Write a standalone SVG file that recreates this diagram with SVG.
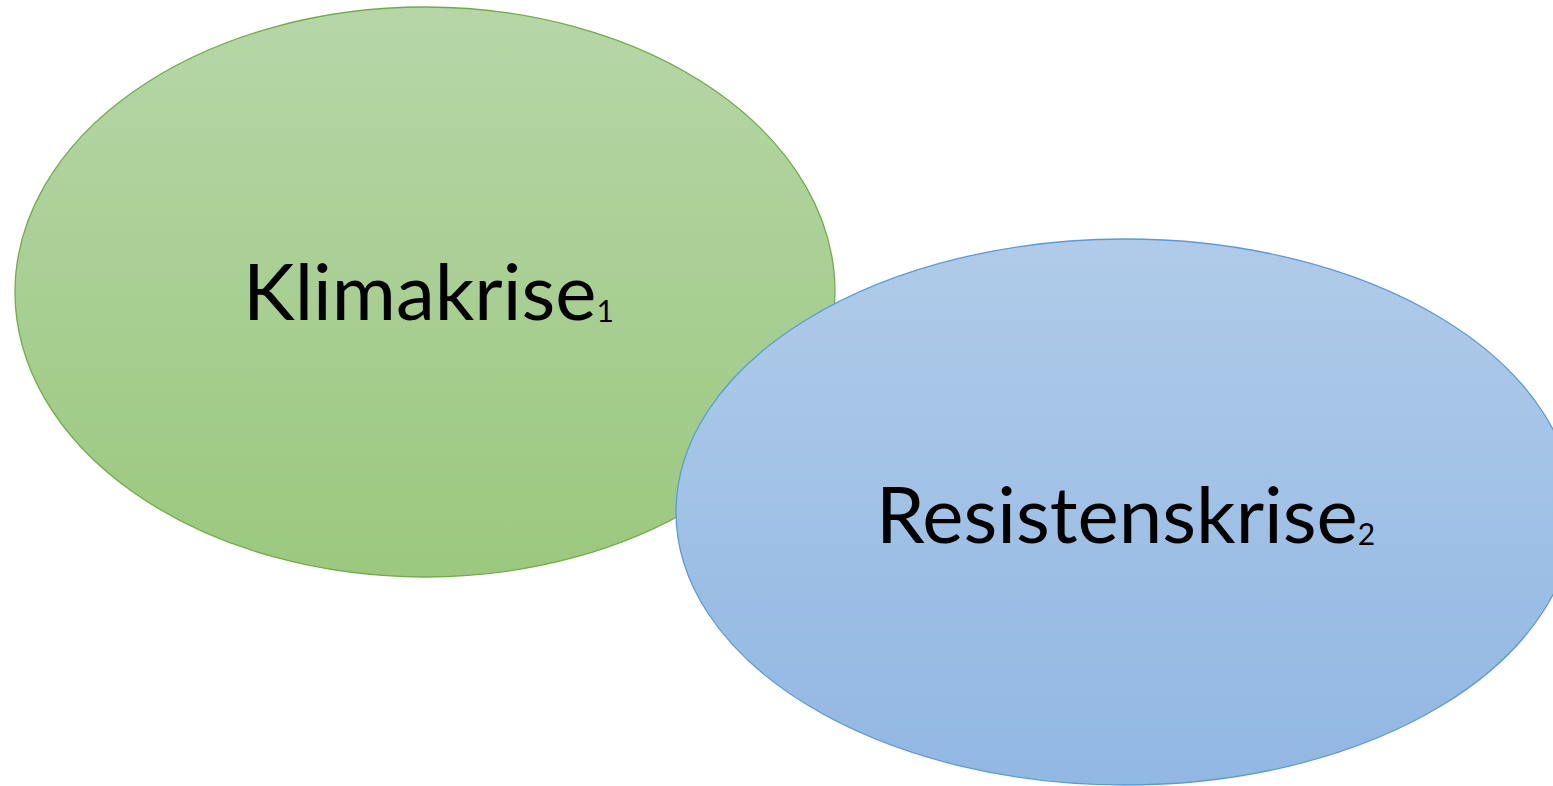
<svg xmlns="http://www.w3.org/2000/svg" width="1553" height="786" viewBox="0 0 1553 786">
<style>
.lbl{font-family:Lato,"Open Sans","Liberation Sans",sans-serif;font-size:78px;fill:#000}
.sub{font-size:30px}
</style>
<defs>
<linearGradient id="gG" x1="0" y1="0" x2="0" y2="1">
<stop offset="0" stop-color="#b6d6a8"/>
<stop offset="1" stop-color="#9bc87e"/>
</linearGradient>
<linearGradient id="gB" x1="0" y1="0" x2="0" y2="1">
<stop offset="0" stop-color="#b0cbe9"/>
<stop offset="1" stop-color="#91b7e3"/>
</linearGradient>
</defs>
<rect width="1553" height="786" fill="#fff"/>
<g id="node-klimakrise">
<ellipse cx="425" cy="292" rx="410" ry="285" fill="url(#gG)" stroke="#70ad47" stroke-width="1.3"/>
<text class="lbl" x="243" y="320">Klimakrise<tspan class="sub" dy="2">1</tspan></text>
</g>
<g id="node-resistenskrise">
<ellipse cx="1125" cy="512" rx="449" ry="273" fill="url(#gB)" stroke="#5b9bd5" stroke-width="1.3"/>
<text class="lbl" x="876" y="543">Resistenskrise<tspan class="sub" dy="2">2</tspan></text>
</g>
<g id="connectors"/>
</svg>
